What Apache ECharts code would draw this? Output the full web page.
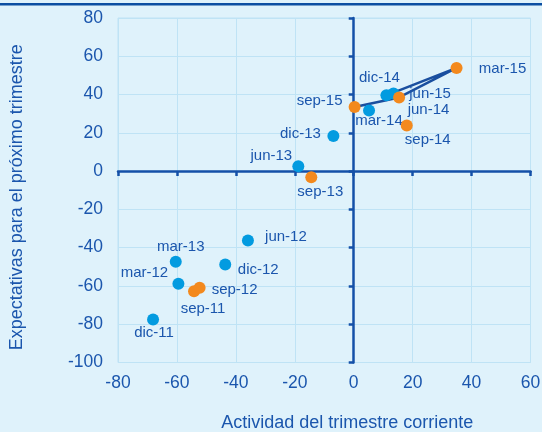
<!DOCTYPE html>
<html>
<head>
<meta charset="utf-8">
<script src="https://cdn.jsdelivr.net/npm/echarts@6/dist/echarts.min.js"></script>
<style>
html,body{margin:0;padding:0;background:#dff2fb;}
#chart{width:542px;height:432px;}
</style>
</head>
<body>
<div id="chart"></div>
<script>
// Data: quarter label, current-quarter activity (x), next-quarter expectations (y)
const blueNames = ['dic-11','mar-12','jun-12','dic-12','mar-13','jun-13','dic-13','mar-14','jun-14','dic-14'];
const blueX     = [-68.1, -59.5, -35.9, -43.6, -60.4, -18.8, -6.9, 5.2, 13.5, 11.1];
const blueY     = [-77.5, -58.9, -36.3, -48.8, -47.4, 2.5, 18.4, 31.7, 40.5, 39.6];

const orangeNames = ['sep-11','sep-12','sep-13','sep-14','mar-15','jun-15','sep-15'];
const orangeX     = [-54.2, -52.3, -14.4, 18.0, 34.9, 15.4, 0.3];
const orangeY     = [-62.8, -61.0, -3.2, 23.8, 53.9, 38.5, 33.5];

// Path connecting the latest quarters
const pathNames = ['dic-14','mar-15','jun-15','sep-15'];

const xTicks = [-80, -60, -40, -20, 0, 20, 40, 60];
const yTicks = [-100, -80, -60, -40, -20, 0, 20, 40, 60, 80];

// Label placement (layout only), pixel offsets from the point
const labelOffsets = {
  'mar-15':[46,1], 'dic-14':[-7,-17], 'jun-15':[31,-4], 'jun-14':[35,16],
  'sep-15':[-35,-6], 'mar-14':[10,10], 'sep-14':[21,14], 'dic-13':[-33,-2],
  'jun-13':[-27,-10], 'sep-13':[9,15], 'jun-12':[38,-4], 'mar-13':[5,-15],
  'dic-12':[33,5], 'mar-12':[-34,-11], 'sep-12':[35,2], 'sep-11':[9,18],
  'dic-11':[1,13]
};

const TXT = '#1b56ad';
const AX = '#1450a8';
const GRIDC = '#bfe3f5';
const FONT = '"Liberation Sans", Arial, sans-serif';

function pts(names, xs, ys){
  return names.map((n,i)=>({name:n, value:[xs[i], ys[i]],
    label:{show:true, position:'inside', offset:labelOffsets[n]||[0,0], formatter:n}}));
}
const allNames = blueNames.concat(orangeNames);
const allX = blueX.concat(orangeX), allY = blueY.concat(orangeY);
const pathData = pathNames.map(n=>{const i=allNames.indexOf(n);return [allX[i], allY[i]];});

const chart = echarts.init(document.getElementById('chart'), null, {renderer:'canvas'});
const xMin = xTicks[0], xMax = xTicks[xTicks.length-1];
const yMin = yTicks[0], yMax = yTicks[yTicks.length-1];
const labelStyle = {color:TXT, fontSize:15, fontFamily:FONT};

chart.setOption({
  backgroundColor:'#dff2fb',
  animation:false,
  textStyle:{fontFamily:FONT},
  graphic:[{type:'rect', shape:{x:0,y:3,width:542,height:2.5}, style:{fill:'#0b4ea2'}}],
  grid:{left:118, top:18, right:11.5, bottom:69.5, show:true, borderColor:GRIDC, borderWidth:1,
        containLabel:false, outerBoundsMode:'none'},
  xAxis:[
    {type:'value', min:xMin, max:xMax, interval:20, position:'bottom',
     axisLine:{show:false, onZero:false}, axisTick:{show:false},
     axisLabel:{color:TXT, fontSize:17.5, fontFamily:FONT, margin:12},
     splitLine:{show:true, lineStyle:{color:GRIDC, width:1}},
     name:'Actividad del trimestre corriente', nameLocation:'middle', nameGap:52,
     nameTextStyle:{color:TXT, fontSize:18, fontFamily:FONT, padding:[0,0,0,46]}},
    {type:'value', min:xMin, max:xMax, interval:20, position:'bottom',
     axisLine:{show:true, onZero:true, lineStyle:{color:AX, width:2.5}},
     axisTick:{show:true, inside:false, length:5, lineStyle:{color:AX, width:2.5}},
     axisLabel:{show:false}, splitLine:{show:false}}
  ],
  yAxis:[
    {type:'value', min:yMin, max:yMax, interval:20, position:'left',
     axisLine:{show:false, onZero:false}, axisTick:{show:false},
     axisLabel:{color:TXT, fontSize:17.5, fontFamily:FONT, margin:15},
     splitLine:{show:true, lineStyle:{color:GRIDC, width:1}},
     name:'Expectativas para el próximo trimestre', nameLocation:'middle', nameGap:92, nameRotate:90,
     nameTextStyle:{color:TXT, fontSize:18, fontFamily:FONT, padding:[0,14,0,0]}},
    {type:'value', min:yMin, max:yMax, interval:20, position:'left',
     axisLine:{show:true, onZero:true, lineStyle:{color:AX, width:2.5}},
     axisTick:{show:true, inside:false, length:5, lineStyle:{color:AX, width:2.5}},
     axisLabel:{show:false}, splitLine:{show:false}}
  ],
  series:[
    {type:'line', data:pathData, xAxisIndex:0, yAxisIndex:0, symbol:'none',
     lineStyle:{color:'#1a4f9f', width:2.5}, z:2, silent:true},
    {type:'scatter', data:pts(blueNames, blueX, blueY), xAxisIndex:0, yAxisIndex:0,
     symbolSize:12, itemStyle:{color:'#039be0', opacity:1}, label:labelStyle, z:3},
    {type:'scatter', data:pts(orangeNames, orangeX, orangeY), xAxisIndex:0, yAxisIndex:0,
     symbolSize:12, itemStyle:{color:'#f3891d', opacity:1}, label:labelStyle, z:4}
  ]
});
</script>
</body>
</html>
